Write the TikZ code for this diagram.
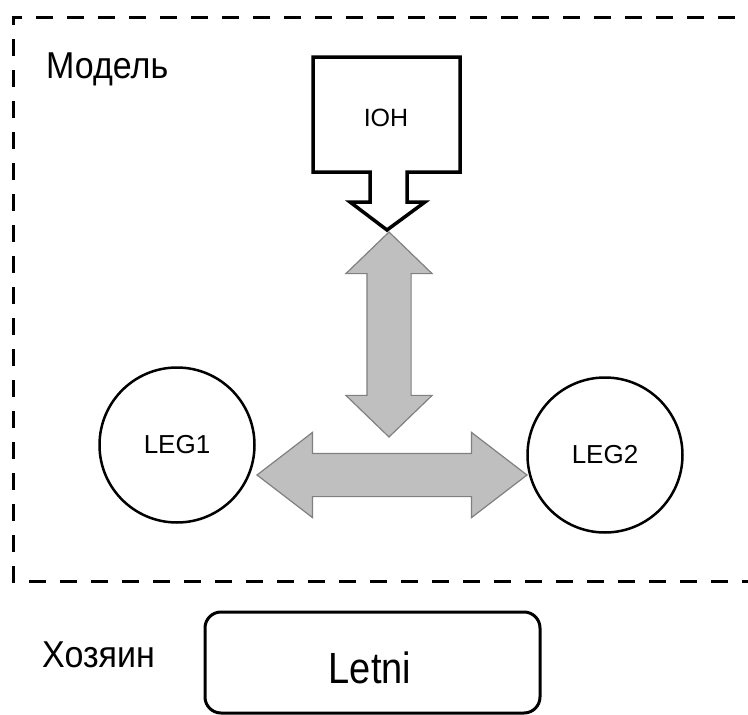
\documentclass[tikz,border=0pt]{standalone}
\usepackage{fontspec}
\setmainfont{Liberation Sans}
\usetikzlibrary{shapes.arrows, positioning}
\tikzset{leg/.style={circle, draw, line width=2.5pt, minimum size=155pt, inner sep=0pt, font=\fontsize{26}{28}\selectfont},
  link/.style={double arrow, draw=black!50, fill=black!25, line width=1.2pt, inner sep=0pt, text width=0pt},
  caption/.style={anchor=base west, inner sep=0pt, font=\fontsize{34}{36}\selectfont}}

\begin{document}
\begin{tikzpicture}[x=1pt, y=-1pt]
\useasboundingbox (0,0) rectangle (748,715);
\clip (0,0) rectangle (748,715);
% model frame
\draw [line width=3pt, dash pattern=on 17pt off 14pt, dash phase=6pt] (760,17) -- (13,17) -- (13,581) -- (760,581);
\node [caption] (model) at (46,78) {\scalebox{1}[1.1]{Модель}};
% IOH callout
\draw [line width=3.5pt, line join=miter] (313,57) -- (460,57) -- (460,172) -- (407,172) -- (407,202) -- (425,202)
  -- (387,230) -- (350,202) -- (370,202) -- (370,172) -- (313,172) -- cycle;
\node [font=\fontsize{25}{27}\selectfont] (ioh) at (386,118) {IOH};
\node [leg] (leg1) at (177,445) {LEG1};
\node [leg] (leg2) at (605,455) {LEG2};
% links
\node [link, minimum height=205pt, minimum width=85pt, double arrow head extend=21pt, double arrow tip angle=92, rotate=90, inner ysep=21.5pt] (v) at (389,334.5) {};
\node [link, minimum height=270pt, minimum width=84pt, double arrow head extend=21pt, double arrow tip angle=75, inner ysep=21pt] (h) at (392,475) {};
% host
\node [caption] (host) at (42,667) {\scalebox{1}[1.1]{Хозяин}};
\draw [line width=3pt, rounded corners=16pt] (205,612) rectangle (540,713);
\node [font=\fontsize{38}{40}\selectfont] (letni) at (370,668) {\scalebox{1}[1.15]{Letni}};
\end{tikzpicture}
\end{document}
